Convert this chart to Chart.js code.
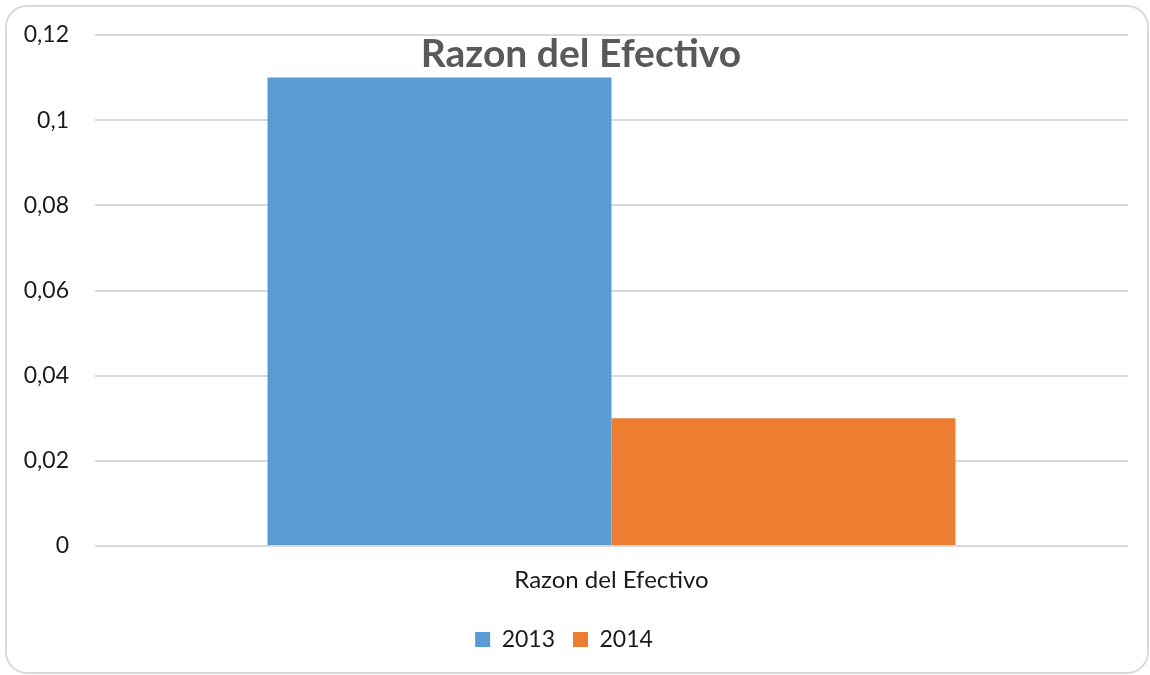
<!DOCTYPE html>
<html lang="es">
<head>
  <meta charset="UTF-8">
  <title>Razon del Efectivo</title>
  <script src="https://cdn.jsdelivr.net/npm/chart.js"></script>
  <style>
    body { margin: 0; background: #fff; }
    .marco {
      position: absolute; left: 5px; top: 5px;
      width: 1140px; height: 665px;
      border: 2px solid #d9d9d9; border-radius: 22px;
    }
    .lienzo { position: absolute; left: 0; top: 0; width: 1150px; height: 675px; }
  </style>
</head>
<body>
  <div class="marco"></div>
  <div class="lienzo"><canvas id="grafico" width="1150" height="675"></canvas></div>
<script>
const categorias = ['Razon del Efectivo'];
const anios = ['2013', '2014'];
const valores2013 = [0.11];
const valores2014 = [0.03];
const ticksY = [0, 0.02, 0.04, 0.06, 0.08, 0.1, 0.12];

const fuente = 'Lato, "Open Sans", sans-serif';

// titulo dibujado encima del area del grafico, como en el original
const tituloPlugin = {
  id: 'tituloEncima',
  afterDatasetsDraw(chart) {
    const ctx = chart.ctx;
    ctx.save();
    ctx.font = 'bold 39px ' + fuente;
    ctx.fillStyle = '#595959';
    ctx.textAlign = 'center';
    ctx.textBaseline = 'middle';
    ctx.fillText('Razon del Efectivo', 581, 54);
    ctx.restore();
  }
};

new Chart(document.getElementById('grafico'), {
  type: 'bar',
  data: {
    labels: categorias,
    datasets: [
      { label: anios[0], data: valores2013, backgroundColor: '#5B9BD5' },
      { label: anios[1], data: valores2014, backgroundColor: '#ED7D31' }
    ]
  },
  options: {
    responsive: false,
    animation: false,
    devicePixelRatio: 1,
    layout: { padding: { top: 35, right: 22, bottom: 14, left: 0 } },
    datasets: { bar: { categoryPercentage: 0.666, barPercentage: 1 } },
    scales: {
      x: {
        grid: { display: false },
        border: { display: false },
        ticks: { color: '#1a1a1a', font: { family: fuente, size: 24 }, padding: 12 },
        afterFit(s) { s.height = 64; }
      },
      y: {
        min: 0, max: 0.12,
        afterBuildTicks(s) { s.ticks = ticksY.map(v => ({ value: v })); },
        grid: { color: '#d9d9d9', lineWidth: 2, drawTicks: false },
        border: { display: false },
        ticks: {
          color: '#1a1a1a', padding: 26,
          font: { family: fuente, size: 23 },
          callback: v => String(Math.round(v * 100) / 100).replace('.', ',')
        },
        afterFit(s) { s.width = 95; s.paddingTop = 0; s.paddingBottom = 0; }
      }
    },
    plugins: {
      title: { display: false },
      tooltip: { enabled: false },
      legend: {
        position: 'bottom',
        labels: {
          color: '#1a1a1a', font: { family: fuente, size: 23 },
          boxWidth: 15, boxHeight: 15, padding: 18
        }
      }
    }
  },
  plugins: [tituloPlugin]
});
</script>
</body>
</html>
